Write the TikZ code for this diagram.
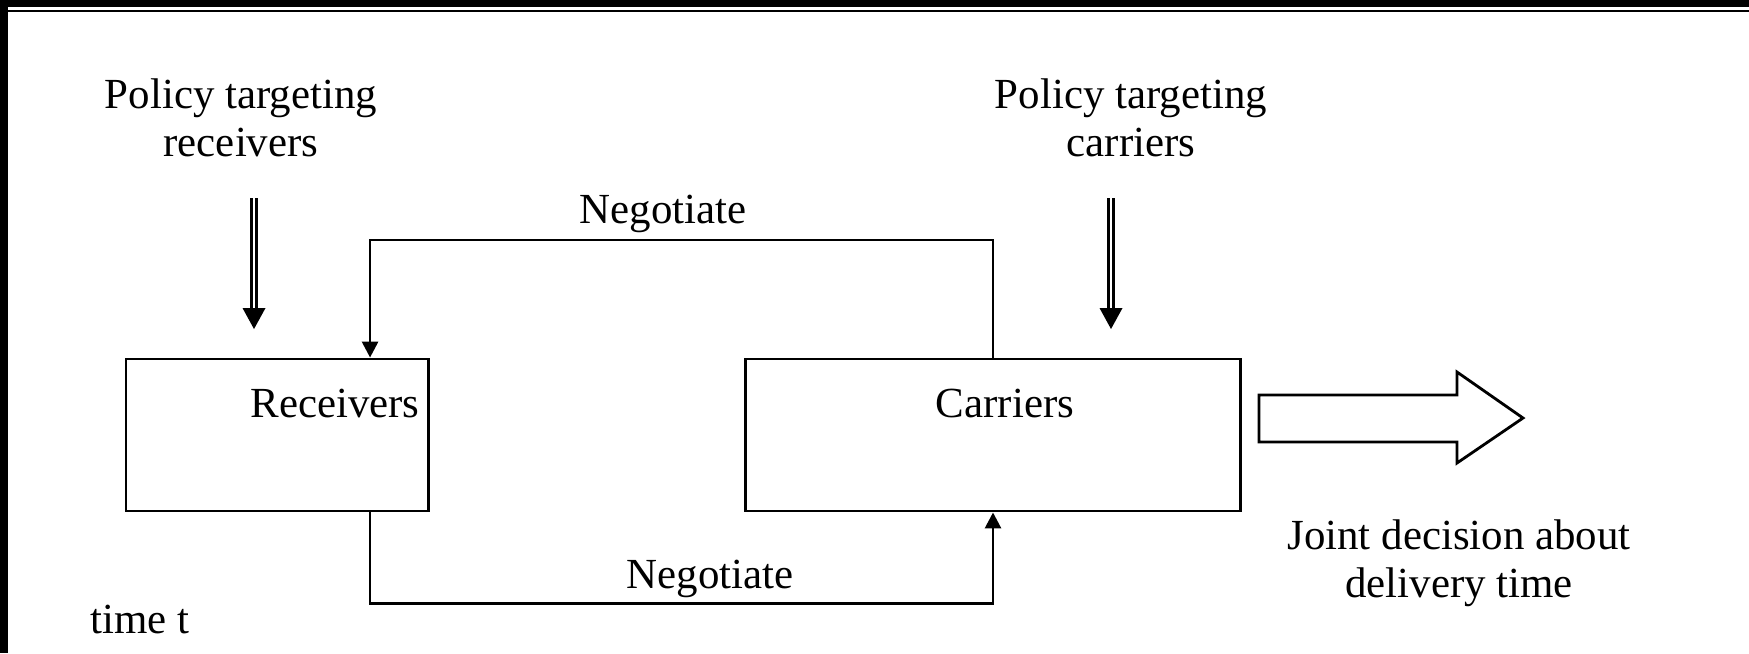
\documentclass[tikz,border=0pt]{standalone}
\usepackage{fontspec}
\setmainfont{Liberation Serif}
\usetikzlibrary{arrows.meta}
\begin{document}
\begin{tikzpicture}[x=0.01cm,y=-0.01cm,
        font=\fontsize{12.2pt}{13.6pt}\selectfont,
        box/.style={draw,line width=.8pt,minimum height=1.52cm,inner sep=0pt},
        neg/.style={line width=.8pt,-{Triangle[width=4.5pt,length=4.5pt]}},
        policy/.style={draw,double,line width=.7pt,double distance=.8pt}]
        \useasboundingbox (0,0) rectangle (1749,653);
        %% frame
        \fill (0,0) rectangle (8,653);
        \fill (0,0) rectangle (1749,7);
        \draw[line width=.5pt] (8,11) -- (1749,11);
        %% agents
        \node[box,minimum width=3.02cm] (rec) at (277,435) {};
        \node[box,minimum width=4.94cm] (car) at (993,435) {};
        \node (rectext) at (335,403) {Receivers};
        \node (cartext) at (1005,403) {Carriers};
        %% policies
        \node[align=center] (polrec) at (241,118) {Policy targeting\\receivers};
        \node[align=center] (polcar) at (1131,118) {Policy targeting\\carriers};
        \draw[policy] ([xshift=.13cm]polrec.south |- 0,198) -- ([xshift=.13cm]polrec.south |- 0,312);
        \fill ([xshift=.13cm]polrec.south |- 0,329) -- ++(-11.5,-21) -- ++(23,0) -- cycle;
        \draw[policy] (1111,198) -- (1111,312);
        \fill (1111,329) -- ++(-11.5,-21) -- ++(23,0) -- cycle;
        %% negotiation
        \draw[neg] (car.north) -- (car.north |- 0,240) -| ([xshift=.93cm]rec.north);
        \draw[neg] ([xshift=.93cm]rec.south) -- ++(0,91) -| (car.south);
        \node (negtop) at (663,214) {Negotiate};
        \node (negbot) at (710,579) {Negotiate};
        \node (time) at (140,619) {time t};
        %% outcome
        \draw[line width=.8pt] (1259,395) -- (1457,395) -- (1457,372) -- (1523,418)
            -- (1457,463) -- (1457,442) -- (1259,442) -- cycle;
        \node[align=center] (joint) at (1459,563) {Joint decision about\\delivery time};
    \end{tikzpicture}
\end{document}
